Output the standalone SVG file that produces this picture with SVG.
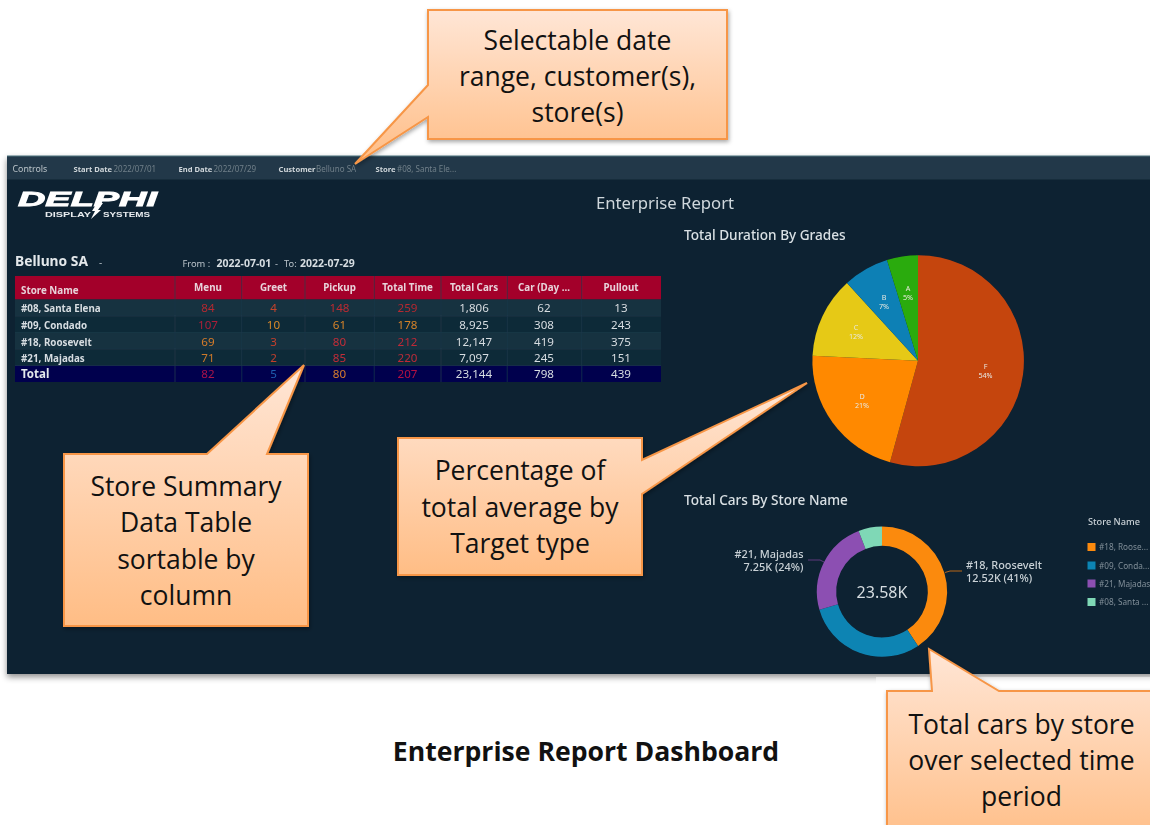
<svg xmlns="http://www.w3.org/2000/svg" width="1150" height="825" viewBox="0 0 1150 825">
<style>
text{font-family:"Noto Sans","Open Sans","Liberation Sans",sans-serif;fill:#dfe6ea}
.c{font-family:"Open Sans","Noto Sans",sans-serif;font-size:26.5px;fill:#111;text-anchor:middle}
.call{fill:url(#g);stroke:#f79646;stroke-width:2;stroke-linejoin:miter;filter:url(#sh)}
.ctl{font-size:7.6px;font-weight:700;fill:#cfd6db}
.val{font-size:8px;fill:#6f7f8a}
.h{font-family:"Noto Sans",sans-serif;font-size:9.8px;font-weight:700;fill:#e8d3da;text-anchor:middle}
.n{font-size:9.8px;font-weight:700;fill:#d6dde1}
.d{font-size:11.6px;text-anchor:middle;fill:#d6dde1}
.pl{font-size:7.2px;fill:#e8e8e0;text-anchor:middle}
.t{font-size:13.6px;font-weight:500;fill:#d9e0e4}
.dl{font-size:10.9px;font-weight:500;fill:#c9d1d6}
.lg{font-size:8.2px;fill:#7f8d97}
</style>
<defs>
<linearGradient id="g" x1="0" y1="0" x2="0" y2="1"><stop offset="0" stop-color="#ffe6d6"/><stop offset="1" stop-color="#ffbd85"/></linearGradient>
<filter id="sh" x="-10%" y="-10%" width="125%" height="125%"><feDropShadow dx="1" dy="2" stdDeviation="2" flood-color="#000" flood-opacity=".35"/></filter>
<filter id="ds" x="-2%" y="-3%" width="104%" height="108%"><feDropShadow dx="0" dy="3" stdDeviation="3" flood-color="#000" flood-opacity=".45"/></filter>
<filter id="soft"><feGaussianBlur stdDeviation="0.35"/></filter>
</defs>
<rect width="1150" height="825" fill="#fff"/>
<g id="dashboard">
<rect x="7" y="156" width="1150" height="518" fill="#092332" filter="url(#ds)"/>
<rect x="876" y="677" width="274" height="20" fill="#fff" opacity=".5"/>
<g filter="url(#soft)">
<g id="controls">
<rect x="7" y="156" width="1150" height="23.500" fill="#243948"/>
<rect x="7" y="155.500" width="1150" height="1" fill="#4d7480"/>
<text x="12.500" y="172" style="font-size:8.800px;fill:#b9c3ca">Controls</text>
<text x="73.500" y="172" class="ctl">Start Date</text><text x="113.500" y="172" class="val">2022/07/01</text>
<text x="178.500" y="172" class="ctl">End Date</text><text x="213.500" y="172" class="val">2022/07/29</text>
<text x="278.500" y="172" class="ctl">Customer</text><text x="316" y="172" class="val">Belluno SA</text>
<text x="375.500" y="172" class="ctl">Store</text><text x="397" y="172" class="val">#08, Santa Ele...</text>
</g>
<g id="logo">
<text x="18" y="206" textLength="139" lengthAdjust="spacingAndGlyphs" style="font-family:'Liberation Sans',sans-serif;font-size:21px;font-weight:700;font-style:italic;fill:#fff;stroke:#fff;stroke-width:.9">DELPHI</text>
<text x="45" y="216.500" textLength="46" lengthAdjust="spacingAndGlyphs" style="font-family:'Liberation Sans',sans-serif;font-size:6.500px;font-weight:700;fill:#e8ecef">DISPLAY</text>
<text x="103" y="216.500" textLength="47" lengthAdjust="spacingAndGlyphs" style="font-family:'Liberation Sans',sans-serif;font-size:6.500px;font-weight:700;fill:#e8ecef">SYSTEMS</text>
<path d="M97 203 L103 203 L98 210 L101 210 L91 219 L95 211 L92 211 Z" fill="#fff"/>
</g>
<text x="665" y="209" text-anchor="middle" style="font-size:16.700px;fill:#cfd7dc">Enterprise Report</text>
<text x="15" y="266" style="font-size:13.800px;font-weight:700;fill:#e3e8eb">Belluno SA</text>
<text x="99" y="266" style="font-size:10px;fill:#aab5bc">-</text>
<text x="182.500" y="267" style="font-size:9.300px;fill:#b9c3ca">From :</text>
<text x="216.500" y="267" style="font-size:10.500px;font-weight:700;fill:#d6dde1">2022-07-01</text>
<text x="275" y="267" style="font-size:9.300px;fill:#b9c3ca">-</text>
<text x="284" y="267" style="font-size:9.300px;fill:#b9c3ca">To:</text>
<text x="300" y="267" style="font-size:10.500px;font-weight:700;fill:#d6dde1">2022-07-29</text>
<g id="table">
<rect x="15" y="276" width="646" height="23.500" fill="#a3002c"/>
<rect x="15" y="299.500" width="646" height="16.500" fill="#18303f"/>
<rect x="15" y="316" width="646" height="16.500" fill="#0f2a39"/>
<rect x="15" y="332.500" width="646" height="16.500" fill="#18303f"/>
<rect x="15" y="349" width="646" height="16.500" fill="#0f2a39"/>
<rect x="15" y="365.500" width="646" height="16.500" fill="#02024e"/>
<path d="M175 276V382M241.700 276V382M305 276V382M374.300 276V382M441 276V382M507.300 276V382M581.700 276V382M15 316H661M15 332.500H661M15 349H661M15 365.500H661" stroke="#1c3a4c" stroke-width=".8" fill="none" opacity=".8"/>
<text x="21" y="294" class="h" style="text-anchor:start">Store Name</text>
<text x="208" y="291" class="h">Menu</text><text x="273.500" y="291" class="h">Greet</text><text x="339.500" y="291" class="h">Pickup</text><text x="407.500" y="291" class="h">Total Time</text><text x="474" y="291" class="h">Total Cars</text><text x="544" y="291" class="h">Car (Day ...</text><text x="621" y="291" class="h">Pullout</text>
<text x="21" y="312" class="n">#08, Santa Elena</text>
<text x="208" y="312" class="d" style="fill:#b42a30">84</text><text x="273.500" y="312" class="d" style="fill:#c4452c">4</text><text x="339.500" y="312" class="d" style="fill:#bd2c32">148</text><text x="407.500" y="312" class="d" style="fill:#b52a30">259</text><text x="474" y="312" class="d">1,806</text><text x="544" y="312" class="d">62</text><text x="621" y="312" class="d">13</text>
<text x="21" y="329" class="n">#09, Condado</text>
<text x="208" y="329" class="d" style="fill:#ad1f38">107</text><text x="273.500" y="329" class="d" style="fill:#d88a28">10</text><text x="339.500" y="329" class="d" style="fill:#d68428">61</text><text x="407.500" y="329" class="d" style="fill:#d68428">178</text><text x="474" y="329" class="d">8,925</text><text x="544" y="329" class="d">308</text><text x="621" y="329" class="d">243</text>
<text x="21" y="345.500" class="n">#18, Roosevelt</text>
<text x="208" y="345.500" class="d" style="fill:#d67d2a">69</text><text x="273.500" y="345.500" class="d" style="fill:#c4402c">3</text><text x="339.500" y="345.500" class="d" style="fill:#c42e38">80</text><text x="407.500" y="345.500" class="d" style="fill:#bd2a38">212</text><text x="474" y="345.500" class="d">12,147</text><text x="544" y="345.500" class="d">419</text><text x="621" y="345.500" class="d">375</text>
<text x="21" y="362" class="n">#21, Majadas</text>
<text x="208" y="362" class="d" style="fill:#cc7a2a">71</text><text x="273.500" y="362" class="d" style="fill:#c4402c">2</text><text x="339.500" y="362" class="d" style="fill:#c42e38">85</text><text x="407.500" y="362" class="d" style="fill:#bd2a38">220</text><text x="474" y="362" class="d">7,097</text><text x="544" y="362" class="d">245</text><text x="621" y="362" class="d">151</text>
<text x="21" y="378" style="font-size:11.500px;font-weight:700;fill:#e3e8eb">Total</text>
<text x="208" y="378" class="d" style="fill:#ab1248">82</text><text x="273.500" y="378" class="d" style="fill:#1d5fb0">5</text><text x="339.500" y="378" class="d" style="fill:#d87c2c">80</text><text x="407.500" y="378" class="d" style="fill:#b50f42">207</text><text x="474" y="378" class="d">23,144</text><text x="544" y="378" class="d">798</text><text x="621" y="378" class="d">439</text>
</g>
<text x="684" y="240" class="t">Total Duration By Grades</text>
<g id="pie">
<path d="M918 360.700L918 255.200A105.500 105.500 0 1 1 890 462.300Z" fill="#c5440f"/>
<path d="M918 360.700L890 462.300A105.500 105.500 0 0 1 812.500 355.700Z" fill="#ff8900"/>
<path d="M918 360.700L812.500 355.700A105.500 105.500 0 0 1 847 283Z" fill="#e6c914"/>
<path d="M918 360.700L847 283A105.500 105.500 0 0 1 887 260Z" fill="#0b80b5"/>
<path d="M918 360.700L887 260A105.500 105.500 0 0 1 918 255.200Z" fill="#2cab0a"/>
<text x="985.500" y="368.500" class="pl">F</text><text x="985.500" y="377.500" class="pl">54%</text>
<text x="862" y="399" class="pl">D</text><text x="862" y="408" class="pl">21%</text>
<text x="856" y="330" class="pl">C</text><text x="856" y="339" class="pl">12%</text>
<text x="884" y="299.500" class="pl">B</text><text x="884" y="308.500" class="pl">7%</text>
<text x="908" y="291" class="pl">A</text><text x="908" y="300" class="pl">5%</text>
</g>
<text x="684" y="505" class="t">Total Cars By Store Name</text>
<g id="donut" fill="none" stroke-width="19.300">
<path d="M882 536.200A55.500 55.500 0 0 1 912.700 637.900" stroke="#fb8a10"/>
<path d="M912.700 637.900A55.500 55.500 0 0 1 828.700 607" stroke="#0d84b3"/>
<path d="M828.700 607A55.500 55.500 0 0 1 862.100 539.900" stroke="#8c4fb2"/>
<path d="M862.100 539.900A55.500 55.500 0 0 1 882 536.200" stroke="#7fd8b6"/>
<path d="M945 572.500L950 571H962" stroke="#b8661c" stroke-width="1"/>
<path d="M808 560H820L824 562" stroke="#5e3a7c" stroke-width="1"/>
<text x="882" y="598" text-anchor="middle" stroke="none" style="font-size:16px;fill:#d6dde1">23.58K</text>
<text x="966" y="568.500" class="dl" stroke="none">#18, Roosevelt</text>
<text x="966" y="581.500" class="dl" stroke="none">12.52K (41%)</text>
<text x="803.500" y="557.500" class="dl" text-anchor="end" stroke="none">#21, Majadas</text>
<text x="803.500" y="570.500" class="dl" text-anchor="end" stroke="none">7.25K (24%)</text>
</g>
<g id="legend">
<text x="1088" y="524.500" style="font-size:9.200px;font-weight:500;fill:#c9d1d6">Store Name</text>
<rect x="1087.500" y="543" width="8" height="8" fill="#fb8a10"/><text x="1099" y="550" class="lg">#18, Roose...</text>
<rect x="1087.500" y="561.500" width="8" height="8" fill="#0d84b3"/><text x="1099" y="568.500" class="lg">#09, Conda...</text>
<rect x="1087.500" y="579.500" width="8" height="8" fill="#8c4fb2"/><text x="1099" y="586.500" class="lg">#21, Majadas</text>
<rect x="1087.500" y="598" width="8" height="8" fill="#7fd8b6"/><text x="1099" y="605" class="lg">#08, Santa ...</text>
</g>
</g>
</g>
<g id="connectors"></g>
<g id="callout-date">
<path class="call" d="M428 10H727V139H428V117L355 164L428 85Z"/>
<text class="c" x="577.500" y="49.500">Selectable date</text>
<text class="c" x="577.500" y="86">range, customer(s),</text>
<text class="c" x="577.500" y="122">store(s)</text>
</g>
<g id="callout-table">
<path class="call" d="M64 454H207L304 365L267 454H308V626H64Z"/>
<text class="c" x="186" y="496">Store Summary</text>
<text class="c" x="186" y="532">Data Table</text>
<text class="c" x="186" y="569">sortable by</text>
<text class="c" x="186" y="605">column</text>
</g>
<g id="callout-percent">
<path class="call" d="M398 438H642V460L807 383L642 494V575H398Z"/>
<text class="c" x="520" y="480">Percentage of</text>
<text class="c" x="520" y="517">total average by</text>
<text class="c" x="520" y="553">Target type</text>
</g>
<g id="callout-cars">
<path class="call" d="M887 691H932L929 649L999 691H1170V850H887Z"/>
<text class="c" x="1021.500" y="734">Total cars by store</text>
<text class="c" x="1021.500" y="770">over selected time</text>
<text class="c" x="1021.500" y="806">period</text>
</g>
<text id="caption" x="586" y="761" text-anchor="middle" style="font-family:'Open Sans','Noto Sans',sans-serif;font-size:26.600px;font-weight:700;fill:#111">Enterprise Report Dashboard</text>
</svg>
